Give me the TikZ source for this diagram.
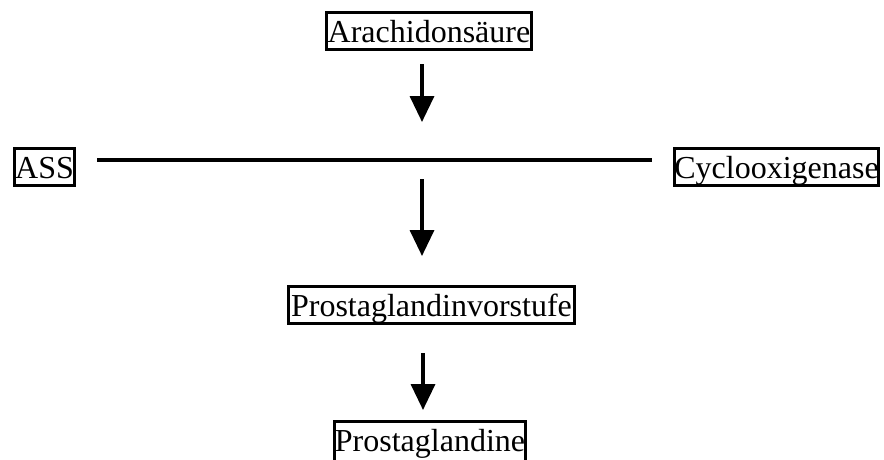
\documentclass[tikz,border=0pt]{standalone}
\usepackage{fontspec}
\setmainfont{Liberation Serif}
\usetikzlibrary{arrows.meta}
\begin{document}
\begin{tikzpicture}[x=1pt,y=-1pt,
  box/.style={draw=black, line width=3pt, inner sep=0pt, outer sep=0pt,
    minimum height=37pt, text height=29.5pt, text depth=7.5pt,
    font=\fontsize{32}{38}\selectfont},
  arr/.style={line width=3.5pt, -{Triangle[length=26pt,width=24pt]}},
  bar/.style={line width=4pt}]
\useasboundingbox (0,0) rectangle (884,459);
\node[box, minimum width=205pt] (arach) at (429,31) {Arachidonsäure};
\node[box, minimum width=60pt] (ass) at (44.5,167) {ASS};
\node[box, minimum width=200pt] (cyc) at (776.5,167) {Cyclooxigenase};
\node[box, minimum width=286pt] (vor) at (431.5,305) {Prostaglandinvorstufe};
\node[box, minimum width=191pt, minimum height=42pt, text depth=12.5pt, anchor=north] (pg) at (430,421.5) {Prostaglandine};
\coordinate (l1) at (97,160);
\coordinate (l2) at (652,160);
\coordinate (a1s) at (422,64);
\coordinate (a1e) at (422,122);
\coordinate (a2s) at (422,179);
\coordinate (a2e) at (422,256);
\coordinate (a3s) at (423,353);
\coordinate (a3e) at (423,410);
\draw[bar] (l1) -- (l2);
\draw[arr] (a1s) -- (a1e);
\draw[arr] (a2s) -- (a2e);
\draw[arr] (a3s) -- (a3e);
\end{tikzpicture}
\end{document}
